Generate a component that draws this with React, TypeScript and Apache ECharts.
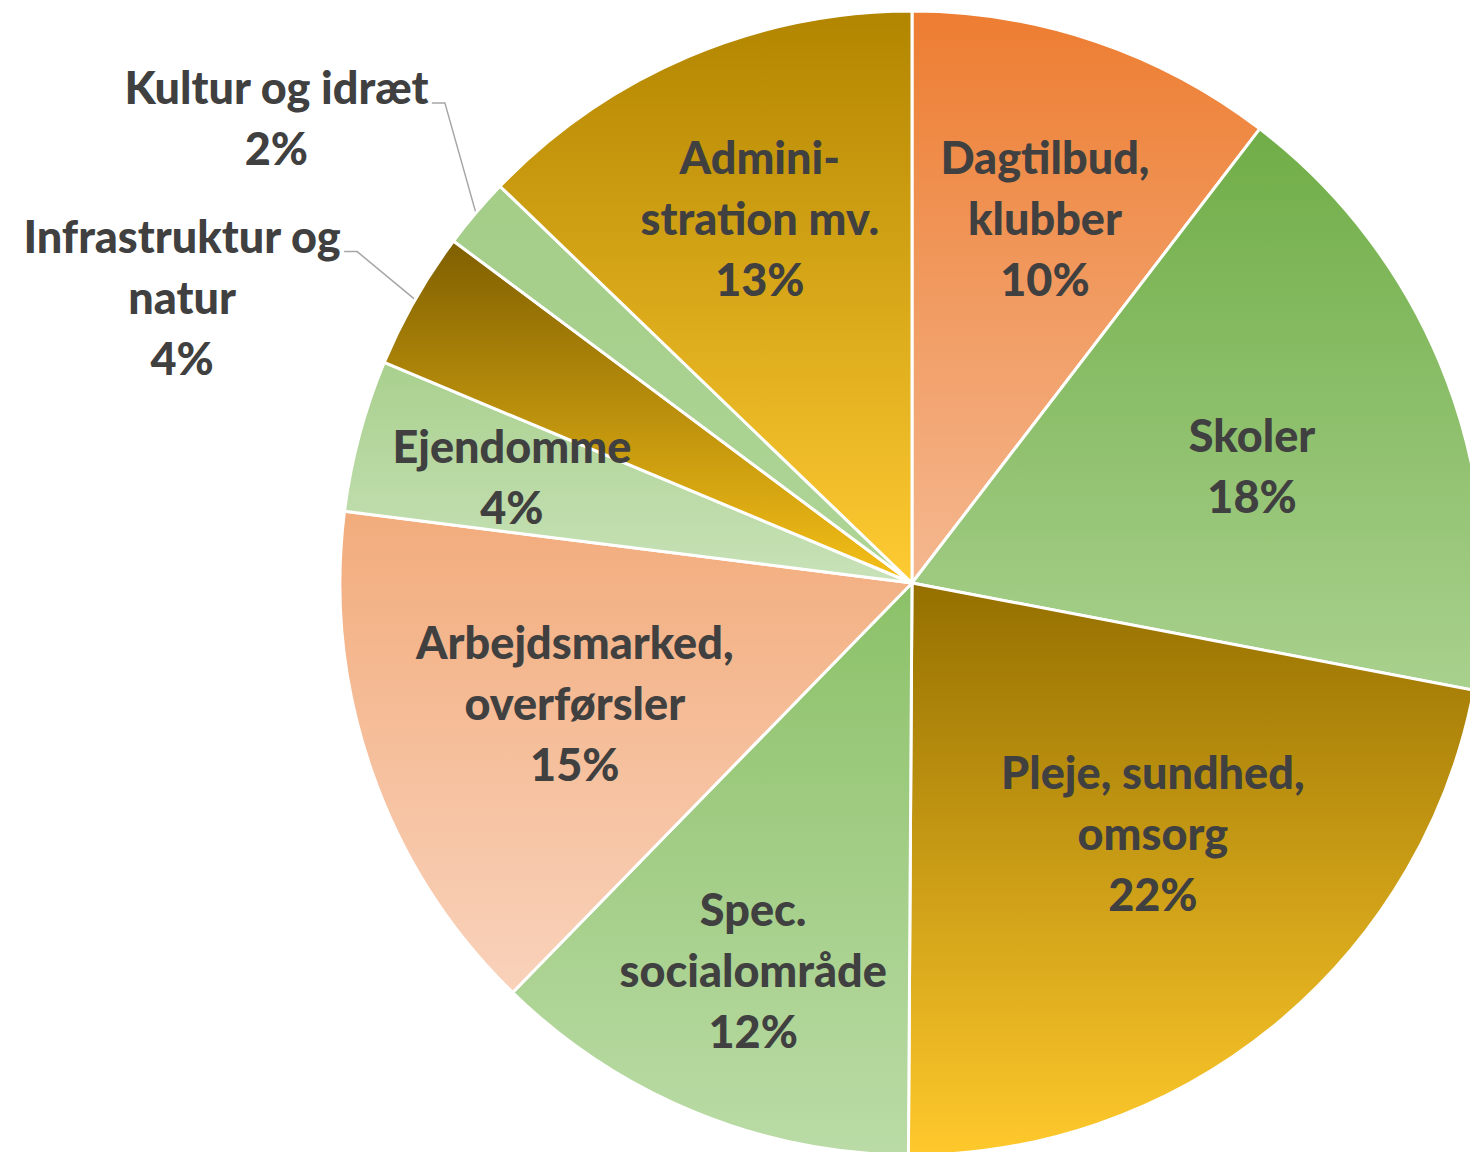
import React, { useEffect, useRef } from "react";
import * as echarts from "echarts";

const CATEGORIES = [
  "Dagtilbud,\nklubber",
  "Skoler",
  "Pleje, sundhed,\nomsorg",
  "Spec.\nsocialområde",
  "Arbejdsmarked,\noverførsler",
  "Ejendomme",
  "Infrastruktur og\nnatur",
  "Kultur og idræt",
  "Admini-\nstration mv.",
];
const VALUES = [10.4, 17.6, 22.1, 12.2, 14.7, 4.3, 3.9, 2.0, 12.8];

// gradient colours (top -> bottom of each slice)
const GRADIENTS: [string, string][] = [
  ["#ED7D31", "#F5B890"],
  ["#70AD47", "#A9D18E"],
  ["#957000", "#FFC92C"],
  ["#8CC168", "#BADBA6"],
  ["#F2AC7C", "#F9D2BB"],
  ["#A9D08E", "#C8E2B8"],
  ["#7F5F00", "#F6C018"],
  ["#A4CD88", "#AED596"],
  ["#B28500", "#FFCB33"],
];

// label placement (style): radial fraction and angle tweak for inside labels
const LABEL_RADIUS = [0.679, 0.629, 0.607, 0.731, 0.626, 0.724, 0, 0, 0.691];
const LABEL_ANGLE = [1.3, 1.8, -4.5, 0, -0.4, 0, 0, 0, 0.4];
const OUTSIDE = [false, false, false, false, false, false, true, true, false];
// leader line elbow offsets from slice edge (px)
const ELBOW: [number, number][] = [
  [0, 0], [0, 0], [0, 0], [0, 0], [0, 0], [0, 0],
  [-58, -48],
  [-31, -110],
  [0, 0],
];

const CX = 912;
const CY = 583;
const R = 572;
const FONT = 45;
const LINE_H = 61;

export default function App() {
  const ref = useRef<HTMLDivElement>(null);

  useEffect(() => {
    if (!ref.current) return;
    const chart = echarts.init(ref.current, undefined, { renderer: "svg" });

    const total = VALUES.reduce((a, b) => a + b, 0);
    const mids: number[] = [];
    let acc = 0;
    VALUES.forEach((v) => {
      const a0 = (acc / total) * Math.PI * 2;
      acc += v;
      const a1 = (acc / total) * Math.PI * 2;
      mids.push((a0 + a1) / 2);
    });

    const data = CATEGORIES.map((name, i) => ({
      name,
      value: VALUES[i],
      itemStyle: {
        color: new echarts.graphic.LinearGradient(0, 0, 0, 1, [
          { offset: 0, color: GRADIENTS[i][0] },
          { offset: 1, color: GRADIENTS[i][1] },
        ]),
      },
      label: OUTSIDE[i] ? { position: "outside" } : { position: "inside" },
      labelLine: { show: OUTSIDE[i] },
    }));

    chart.setOption({
      animation: false,
      series: [
        {
          type: "pie",
          center: [CX, CY],
          radius: [0, R],
          startAngle: 90,
          clockwise: true,
          avoidLabelOverlap: false,
          silent: true,
          emphasis: { disabled: true },
          itemStyle: { borderColor: "#FFFFFF", borderWidth: 3 },
          label: {
            show: true,
            color: "#404040",
            fontFamily: "Lato",
            fontWeight: 900,
            fontSize: FONT,
            lineHeight: LINE_H,
            align: "center",
            formatter: (p: any) => `${p.name}\n${Math.round(p.percent)}%`,
          },
          labelLine: {
            lineStyle: { color: "#A6A6A6", width: 1.5 },
          },
          labelLayout: (p: any) => {
            const i = p.dataIndex;
            const m = mids[i];
            if (OUTSIDE[i]) {
              const ax = CX + R * Math.sin(m);
              const ay = CY - R * Math.cos(m);
              const ex = ax + ELBOW[i][0];
              const ey = ay + ELBOW[i][1];
              const hx = ex - 13;
              const w = p.labelRect.width;
              return {
                x: hx - 3 - w / 2,
                y: ey - 46,
                align: "center",
                verticalAlign: "top",
                labelLinePoints: [
                  [ax, ay],
                  [ex, ey],
                  [hx, ey],
                ],
              };
            }
            const f = LABEL_RADIUS[i] * R;
            const a = m + (LABEL_ANGLE[i] * Math.PI) / 180;
            return {
              x: CX + f * Math.sin(a),
              y: CY - f * Math.cos(a),
              align: "center",
              verticalAlign: "middle",
            };
          },
          data,
        },
      ],
    });

    return () => chart.dispose();
  }, []);

  return (
    <div
      ref={ref}
      style={{ position: "absolute", left: 0, top: 0, width: 1470, height: 1152 }}
    />
  );
}
